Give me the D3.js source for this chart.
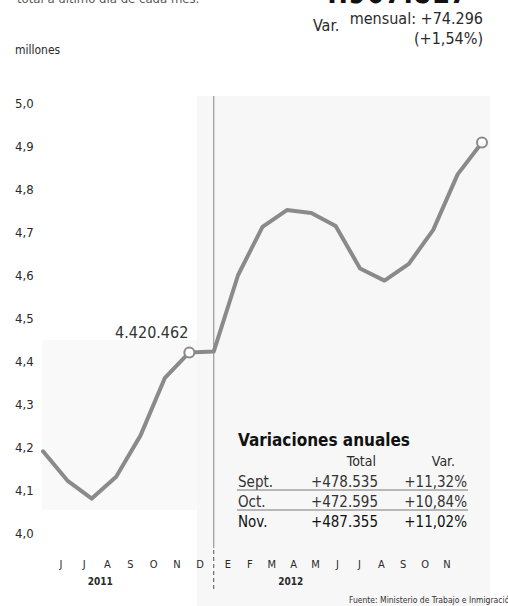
<!DOCTYPE html>
<html>
<head>
<meta charset="utf-8">
<script src="https://cdn.jsdelivr.net/npm/d3@7"></script>
<style>
  body{ margin:0; background:#fff; }
  svg{ display:block; }
  text{ font-family:"DejaVu Sans Condensed","Liberation Sans Narrow","Roboto",sans-serif; fill:#2a2a2a; }
</style>
</head>
<body>
<svg id="chart" width="508" height="606"></svg>
<script>
// paro registrado, millones (may 2011 - nov 2012)
var paro = [4.190, 4.122, 4.080, 4.131, 4.227, 4.361, 4.420, 4.422, 4.600, 4.712,
            4.751, 4.744, 4.714, 4.615, 4.587, 4.626, 4.705, 4.834, 4.908]
var marcados = [6, 18]
var etiquetaNov = 4420462
var totalActual = 4907817
var varMensual = 74296
var varMensualPct = 1.54

var meses = ["J","J","A","S","O","N","D","E","F","M","A","M","J","J","A","S","O","N"]
var anios = ["2011","2012"]
var yTicks = [4.0, 4.1, 4.2, 4.3, 4.4, 4.5, 4.6, 4.7, 4.8, 4.9, 5.0]

var anualMeses = ["Sept.","Oct.","Nov."]
var anualTotal = [478535, 472595, 487355]
var anualVar = [11.32, 10.84, 11.02]

var es = d3.formatLocale({decimal:",", thousands:".", grouping:[3], currency:["","€"]})

var svg = d3.select("#chart")

var x = d3.scaleLinear().domain([0, paro.length-1]).range([43, 482])
var y = d3.scaleLinear().domain([4.0, 5.0]).range([533, 103])
// month labels sit a bit left of the points, with a jump at the year change
var xMes = d3.scaleLinear().domain([0, 6, 7, 17]).range([61, 200, 228, 447])

//scan background patches
svg.append("rect").attr("x", 197).attr("y", 96).attr("width", 293).attr("height", 510).attr("fill", "#f7f7f7")
svg.append("rect").attr("x", 42).attr("y", 340).attr("width", 155).attr("height", 170).attr("fill", "#f9f9f9")

//header
svg.append("text").attr("x", 17).attr("y", 3).style("font-size", "13px").style("fill", "#555")
  .text("total a último día de cada mes.")
svg.append("text").attr("x", 320).attr("y", 3).attr("textLength", 148).attr("lengthAdjust", "spacingAndGlyphs")
  .style("font-size", "36px").style("font-weight", "bold").style("fill", "#111")
  .text(es.format(",d")(totalActual))
svg.append("text").attr("x", 313).attr("y", 31).style("font-size", "16px").text("Var.")
svg.append("text").attr("x", 483).attr("y", 24).attr("text-anchor", "end").style("font-size", "16px")
  .text("mensual: " + es.format("+,d")(varMensual))
svg.append("text").attr("x", 483).attr("y", 44).attr("text-anchor", "end").style("font-size", "16px")
  .text("(" + es.format("+.2f")(varMensualPct) + "%)")
svg.append("text").attr("x", 15).attr("y", 54).style("font-size", "12px").text("millones")

//y axis labels
svg.selectAll(".ytick")
    .data(yTicks)
  .enter().append("text")
    .classed("ytick", true)
    .attr("x", 15)
    .attr("y", function(d){ return y(d) })
    .attr("dy", "0.35em")
    .style("font-size", "13px")
    .text(function(d){ return es.format(".1f")(d) })

//divider between years
svg.append("line")
  .attr("x1", x(7)).attr("x2", x(7)).attr("y1", 96).attr("y2", 548)
  .attr("stroke", "#9a9a9a").attr("stroke-width", 1.2)
svg.append("line")
  .attr("x1", x(7)).attr("x2", x(7)).attr("y1", 550).attr("y2", 590)
  .attr("stroke", "#555").attr("stroke-width", 1).attr("stroke-dasharray", "4,3")

//line
var line = d3.line()
  .x(function(d, i){ return x(i) })
  .y(function(d){ return y(d) })
svg.append("path")
  .datum(paro)
  .attr("d", line)
  .attr("fill", "none")
  .attr("stroke", "#8a8a8a")
  .attr("stroke-width", 4)
  .attr("stroke-linejoin", "round")
  .attr("stroke-linecap", "round")

svg.selectAll(".marca")
    .data(marcados)
  .enter().append("circle")
    .classed("marca", true)
    .attr("cx", function(d){ return x(d) })
    .attr("cy", function(d){ return y(paro[d]) })
    .attr("r", 5)
    .attr("fill", "#fff")
    .attr("stroke", "#8a8a8a")
    .attr("stroke-width", 2)

svg.append("text")
  .attr("x", x(6) - 1).attr("y", y(paro[6]) - 14)
  .attr("text-anchor", "end")
  .style("font-size", "16px").style("fill", "#333")
  .text(es.format(",d")(etiquetaNov))

//x labels
svg.selectAll(".mes")
    .data(meses)
  .enter().append("text")
    .classed("mes", true)
    .attr("x", function(d, i){ return xMes(i) })
    .attr("y", 568)
    .attr("text-anchor", "middle")
    .style("font-size", "11px")
    .text(function(d){ return d })

svg.selectAll(".anio")
    .data(anios)
  .enter().append("text")
    .classed("anio", true)
    .attr("x", function(d, i){ return i == 0 ? xMes(2) - 7 : xMes(10) - 3 })
    .attr("y", 585)
    .attr("text-anchor", "middle")
    .style("font-size", "10px").style("font-weight", "bold")
    .text(function(d){ return d })

//variaciones anuales table
var tabla = svg.append("g")
tabla.append("text").attr("x", 238).attr("y", 446)
  .style("font-size", "17px").style("font-weight", "bold").style("fill", "#111")
  .text("Variaciones anuales")
tabla.append("text").attr("x", 376).attr("y", 466).attr("text-anchor", "end").style("font-size", "14px").text("Total")
tabla.append("text").attr("x", 455).attr("y", 466).attr("text-anchor", "end").style("font-size", "14px").text("Var.")

var fila = tabla.selectAll(".fila")
    .data(anualMeses)
  .enter().append("g")
    .classed("fila", true)
    .attr("transform", function(d, i){ return "translate(0," + (487 + i*20) + ")" })
fila.append("text").attr("x", 238).style("font-size", "15px")
  .style("fill", function(d, i){ return i == 2 ? "#111" : "#333" })
  .text(function(d){ return d })
fila.append("text").attr("x", 378).attr("text-anchor", "end").style("font-size", "15px")
  .style("fill", function(d, i){ return i == 2 ? "#111" : "#333" })
  .text(function(d, i){ return es.format("+,d")(anualTotal[i]) })
fila.append("text").attr("x", 467).attr("text-anchor", "end").style("font-size", "15px")
  .style("fill", function(d, i){ return i == 2 ? "#111" : "#333" })
  .text(function(d, i){ return es.format("+.2f")(anualVar[i]) + "%" })
fila.filter(function(d, i){ return i < 2 })
  .append("line")
    .attr("x1", 237).attr("x2", 468).attr("y1", 3).attr("y2", 3)
    .attr("stroke", "#777").attr("stroke-width", 1)

//source
svg.append("text").attr("x", 349).attr("y", 603).style("font-size", "8.5px").style("fill", "#333")
  .text("Fuente: Ministerio de Trabajo e Inmigración")
</script>
</body>
</html>
